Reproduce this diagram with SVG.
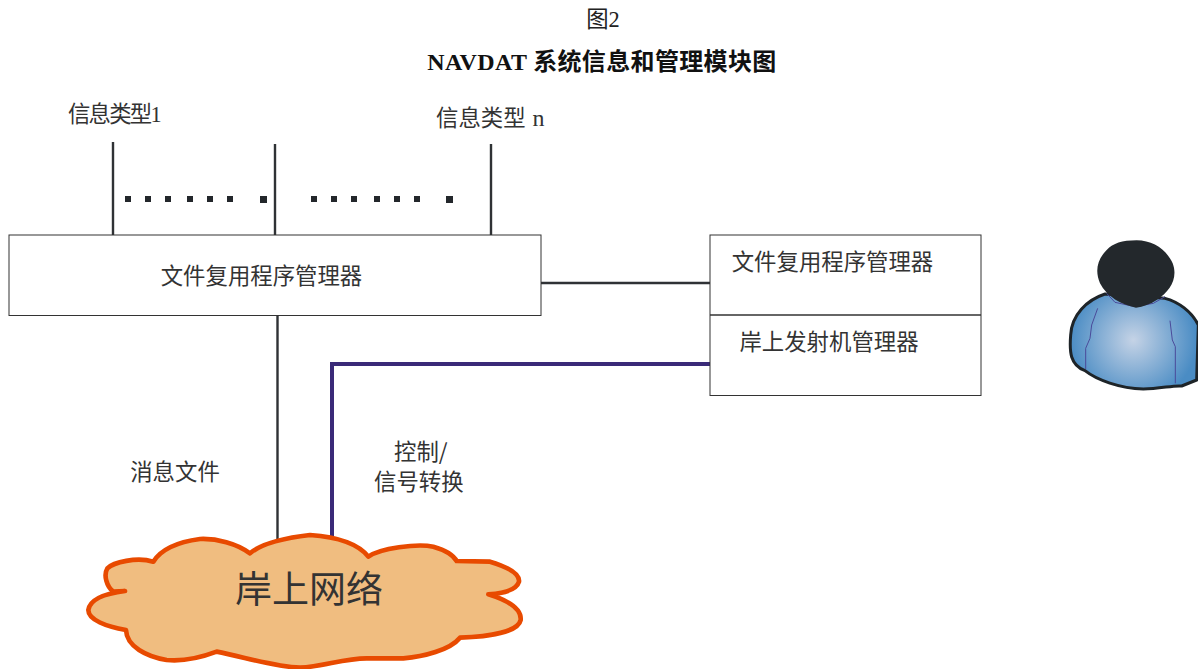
<svg xmlns="http://www.w3.org/2000/svg" width="1198" height="669" viewBox="0 0 1198 669">
<style>
.cn{font-family:"Noto Sans CJK SC","Noto Sans",sans-serif;fill:#333;font-size:22.4px}
.se{font-family:"Liberation Serif","Noto Sans CJK SC",serif}
.box{fill:#fff;stroke:#333;stroke-width:1}
.ln{fill:none;stroke:#2f3235;stroke-width:2.4}
.dot{fill:#23272b}
</style>
<defs>
<radialGradient id="body" gradientUnits="userSpaceOnUse" cx="250" cy="345" r="190">
<stop offset="0" stop-color="#c5d3e6"/><stop offset="1" stop-color="#4a8cc4"/>
</radialGradient>
</defs>
<g id="title">
<text x="603" y="27" text-anchor="middle" class="se" font-size="22.400" fill="#222">图2</text>
<text x="602" y="70" text-anchor="middle" class="se" font-size="24" font-weight="bold" fill="#111" letter-spacing=".35">NAVDAT 系统信息和管理模块图</text>
</g>
<g id="connectors">
<path class="ln" d="M113 142V235M275 144V235M491 144V235"/>
<path class="ln" d="M541 283H710M277.500 316V540"/>
<path d="M332 537V364H710" fill="none" stroke="#3a2a78" stroke-width="4"/>
<path class="dot" d="M125 196h6v6h-6zM145 196h6v6h-6zM165 196h6v6h-6zM187 196h6v6h-6zM207 196h6v6h-6zM227 196h6v6h-6zM260 196h7v7h-7zM311 196h6v6h-6zM331 196h6v6h-6zM351 196h6v6h-6zM374 196h6v6h-6zM394 196h6v6h-6zM414 196h6v6h-6zM446 196h7v7h-7z"/>
</g>
<g id="label-type1"><text x="68" y="122" class="cn" letter-spacing="-1.800">信息类型<tspan class="se" letter-spacing="0">1</tspan></text></g>
<g id="label-typen"><text x="436" y="126" class="cn">信息类型 <tspan class="se" font-size="24" dx="2">n</tspan></text></g>
<g id="node-mux-left">
<rect class="box" x="9" y="235" width="532" height="80.500"/>
<text x="261.500" y="283.500" text-anchor="middle" class="cn">文件复用程序管理器</text>
</g>
<g id="node-right">
<rect class="box" x="710" y="235" width="271" height="160.500"/>
<path d="M710 315H981" stroke="#333" stroke-width="1.500"/>
<text x="832.500" y="269.500" text-anchor="middle" class="cn">文件复用程序管理器</text>
<text x="829" y="349.500" text-anchor="middle" class="cn">岸上发射机管理器</text>
</g>
<g id="label-msg"><text x="175" y="479.500" text-anchor="middle" class="cn">消息文件</text></g>
<g id="label-ctrl">
<text x="394" y="459.500" class="cn">控制/</text>
<text x="374" y="489.500" class="cn">信号转换</text>
</g>
<g id="node-cloud">
<path transform="translate(70 525) scale(.33333)" fill="#f0bd80" stroke="#e84a00" stroke-width="14" stroke-linejoin="round" d="M165 198L130 200C110 185,100 150,112 130C130 112,200 95,250 110C275 70,330 50,390 42C440 40,500 55,540 85C575 55,650 38,720 30C790 35,860 50,895 95C930 70,1040 55,1090 65C1125 75,1150 90,1160 108L1260 110C1310 125,1350 145,1347 170C1340 195,1300 205,1255 208C1310 225,1355 250,1352 285C1345 320,1260 335,1170 338C1140 375,1060 395,1000 400L890 400C820 400,760 425,690 428C610 425,520 395,440 380C400 395,340 410,290 405C230 395,170 365,168 315C110 305,55 285,55 255C60 220,110 205,165 198Z"/>
<text x="309" y="603" text-anchor="middle" class="cn" style="font-size:37px">岸上网络</text>
</g>
<g id="node-person" transform="translate(1050 225) scale(.33333)">
<path fill="url(#body)" stroke="#1e2428" stroke-width="9" stroke-linejoin="round" d="M165 207C110 225,65 270,62 330C58 380,60 420,105 437C140 465,210 490,280 492C330 492,370 480,395 483L440 465L445 300C425 260,385 230,345 220Z"/>
<path fill="none" stroke="#4a4a9a" stroke-width="3" d="M143 250L125 300L120 340L107 370V432M360 287L367 345L376 365V475M170 205L195 232L255 245L310 235L345 215"/>
<path fill="#23282c" d="M258 248C215 240,170 215,150 175C135 140,140 105,170 75C190 55,215 46,260 46C310 46,350 75,368 115C385 160,360 200,320 225C300 238,280 245,258 248Z"/>
</g>
</svg>
